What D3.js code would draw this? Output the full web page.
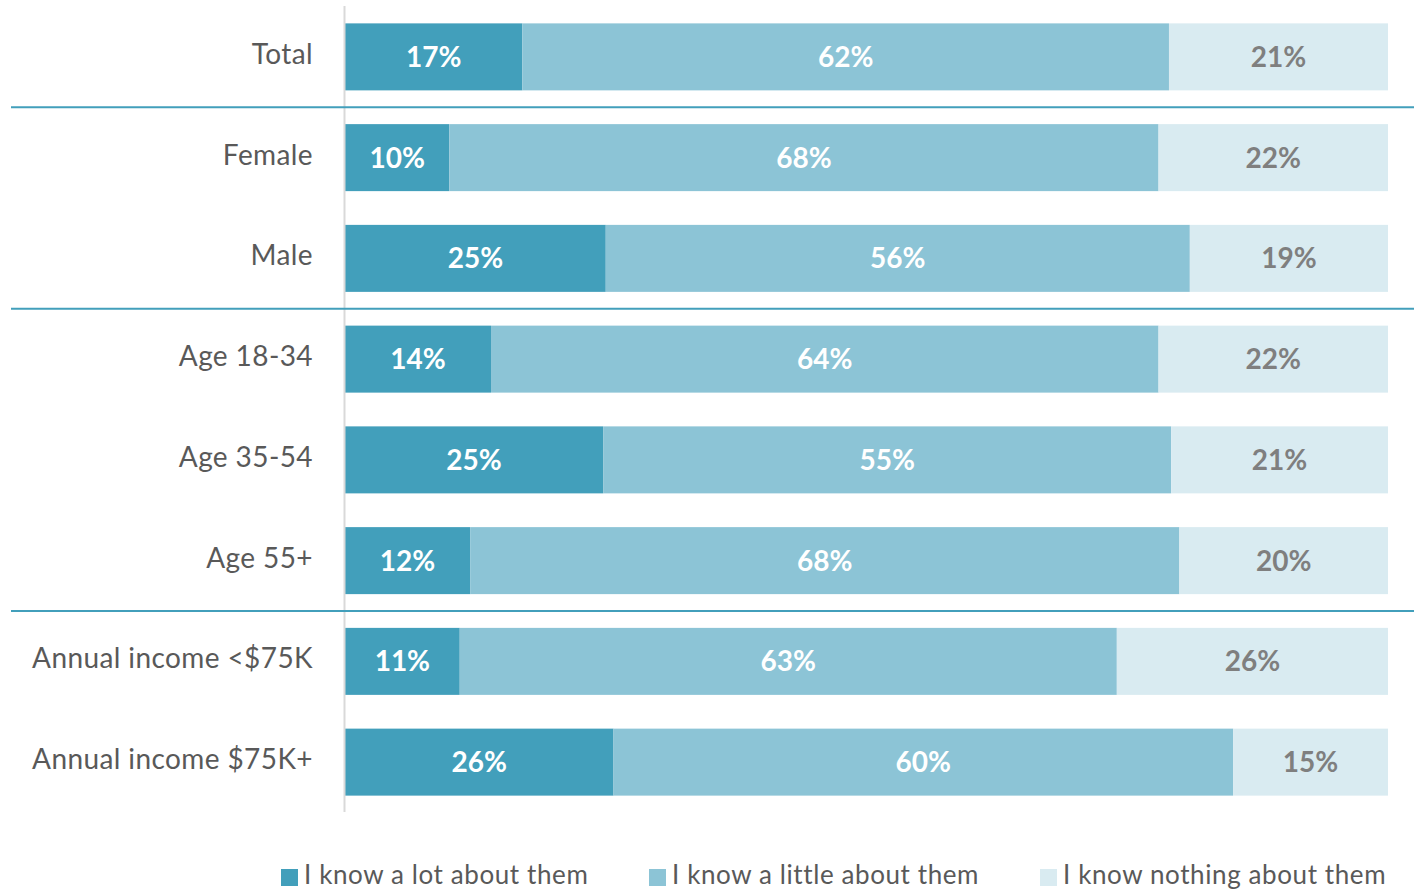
<!DOCTYPE html>
<html>
<head>
<meta charset="utf-8">
<script src="https://cdn.jsdelivr.net/npm/d3@7/dist/d3.min.js"></script>
<style>
  html, body { margin: 0; padding: 0; background: #ffffff; }
  svg { display: block; font-family: Lato, "Open Sans", sans-serif; }
</style>
</head>
<body>
<svg id="chart" width="1414" height="890"></svg>
<script>
// Survey groups, top to bottom
const categories = ["Total", "Female", "Male", "Age 18-34", "Age 35-54", "Age 55+", "Annual income <$75K", "Annual income $75K+"];
// Share of respondents per answer (%)
const knowALot     = [17, 10, 25, 14, 25, 12, 11, 26];
const knowALittle  = [62, 68, 56, 64, 55, 68, 63, 60];
const knowNothing  = [21, 22, 19, 22, 21, 20, 26, 15];
const seriesNames  = ["I know a lot about them", "I know a little about them", "I know nothing about them"];
// Group boundaries: a divider is drawn below these categories
const groupEnds = ["Total", "Male", "Age 55+"];

const keys = ["s0", "s1", "s2"];
const colors = ["#429fbb", "#8cc4d6", "#d9ebf1"];
const labelColors = ["#ffffff", "#ffffff", "#7f7f7f"];

const svg = d3.select("#chart");
const rows = categories.map((c, i) => ({ cat: c, s0: knowALot[i], s1: knowALittle[i], s2: knowNothing[i] }));
// 100% stacked: each row is normalised to its own total
const layers = d3.stack().keys(keys).offset(d3.stackOffsetExpand)(rows);

const x = d3.scaleLinear().domain([0, 1]).range([345, 1388]);
const y = d3.scaleBand().domain(categories).range([6.5, 812.5]).paddingInner(0.335).paddingOuter(0.1675);

// Bars and value labels
const g = svg.append("g");
layers.forEach((layer, li) => {
  g.selectAll(null).data(layer).enter().append("rect")
    .attr("x", d => x(d[0]))
    .attr("y", d => y(d.data.cat))
    .attr("width", d => x(d[1]) - x(d[0]))
    .attr("height", y.bandwidth())
    .attr("fill", colors[li]);
  g.selectAll(null).data(layer).enter().append("text")
    .attr("x", d => (x(d[0]) + x(d[1])) / 2)
    .attr("y", d => y(d.data.cat) + y.bandwidth() / 2)
    .attr("dy", "0.36em")
    .attr("text-anchor", "middle")
    .attr("fill", labelColors[li])
    .style("font-size", "28px")
    .style("font-weight", "bold")
    .text(d => d.data[keys[li]] + "%");
});

// Category axis line
svg.append("line")
  .attr("x1", 344.5).attr("x2", 344.5)
  .attr("y1", 6).attr("y2", 812)
  .attr("stroke", "#d9d9d9").attr("stroke-width", 2);

// Group dividers, halfway between neighbouring bands
groupEnds.forEach(c => {
  const yy = y(c) + y.bandwidth() + y.step() * y.paddingInner() / 2;
  svg.append("line")
    .attr("x1", 11).attr("x2", 1414)
    .attr("y1", yy).attr("y2", yy)
    .attr("stroke", "#429fbb").attr("stroke-width", 2);
});

// Category labels
svg.selectAll(null).data(categories).enter().append("text")
  .attr("x", 313)
  .attr("y", d => y(d) + y.bandwidth() / 2 - 3)
  .attr("dy", "0.36em")
  .attr("text-anchor", "end")
  .attr("fill", "#595959")
  .style("font-size", "28px")
  .style("letter-spacing", "0.4px")
  .text(d => d);

// Legend
const legendX = [281, 649, 1040];
const lg = svg.append("g");
seriesNames.forEach((n, i) => {
  lg.append("rect").attr("x", legendX[i]).attr("y", 869).attr("width", 17).attr("height", 17).attr("fill", colors[i]);
  lg.append("text").attr("x", legendX[i] + 23).attr("y", 875).attr("dy", "0.36em")
    .attr("fill", "#595959").style("font-size", "26px").style("letter-spacing", "0.6px").text(n);
});
</script>
</body>
</html>
